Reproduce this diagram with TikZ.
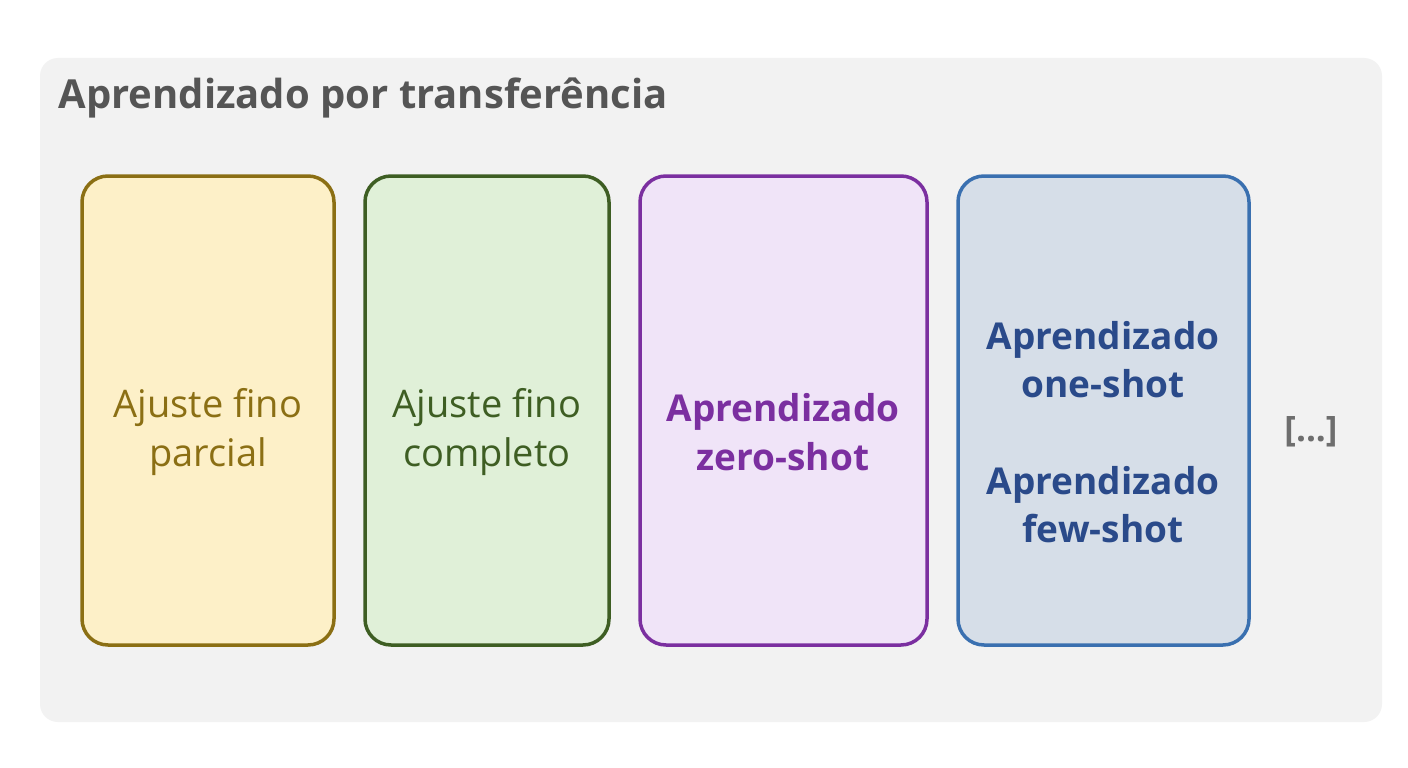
\documentclass[tikz,border=0pt]{standalone}
\usepackage{fontspec}
\setmainfont{Open Sans}
\begin{document}
\begin{tikzpicture}[x=1pt,y=-1pt,
  card/.style={rounded corners=26pt,line width=3.5pt},
  lbl/.style={align=center,font=\fontsize{38}{49}\selectfont}]
\useasboundingbox (0,0) rectangle (1408,768);
\fill[white] (0,0) rectangle (1408,768);
\fill[rounded corners=18pt,fill={rgb,255:red,242;green,242;blue,242}] (40,58) rectangle (1382,722);
\node[anchor=west,text={rgb,255:red,85;green,85;blue,85},font=\fontsize{40}{48}\selectfont\bfseries] (title) at (55,98) {Aprendizado por transferência};
\definecolor{c1}{RGB}{139,111,20}\definecolor{f1}{RGB}{253,240,200}
\definecolor{c2}{RGB}{62,94,35}\definecolor{f2}{RGB}{224,240,216}
\definecolor{c3}{RGB}{123,47,160}\definecolor{f3}{RGB}{240,228,248}
\definecolor{c4}{RGB}{58,112,176}\definecolor{f4}{RGB}{214,222,232}
\definecolor{t4}{RGB}{42,74,138}
\draw[card,draw=c1,fill=f1] (82,176) rectangle (334,645);
\draw[card,draw=c2,fill=f2] (365,176) rectangle (609,645);
\draw[card,draw=c3,fill=f3] (640,176) rectangle (927,645);
\draw[card,draw=c4,fill=f4] (958,176) rectangle (1249,645);
\node[lbl,text=c1] (a) at (208,432) {Ajuste fino\\parcial};
\node[lbl,text=c2] (b) at (487,432) {Ajuste fino\\completo};
\node[lbl,text=c3,font=\fontsize{37}{49}\selectfont\bfseries] (c) at (783,432) {Aprendizado\\zero-shot};
\node[lbl,text=t4,font=\fontsize{37}{48}\selectfont\bfseries] (d1) at (1103,360) {Aprendizado\\one-shot};
\node[lbl,text=t4,font=\fontsize{37}{48}\selectfont\bfseries] (d2) at (1103,505) {Aprendizado\\few-shot};
\node[text={rgb,255:red,110;green,110;blue,110},font=\fontsize{35}{40}\selectfont\bfseries] (e) at (1311,432) {[...]};
\end{tikzpicture}
\end{document}
